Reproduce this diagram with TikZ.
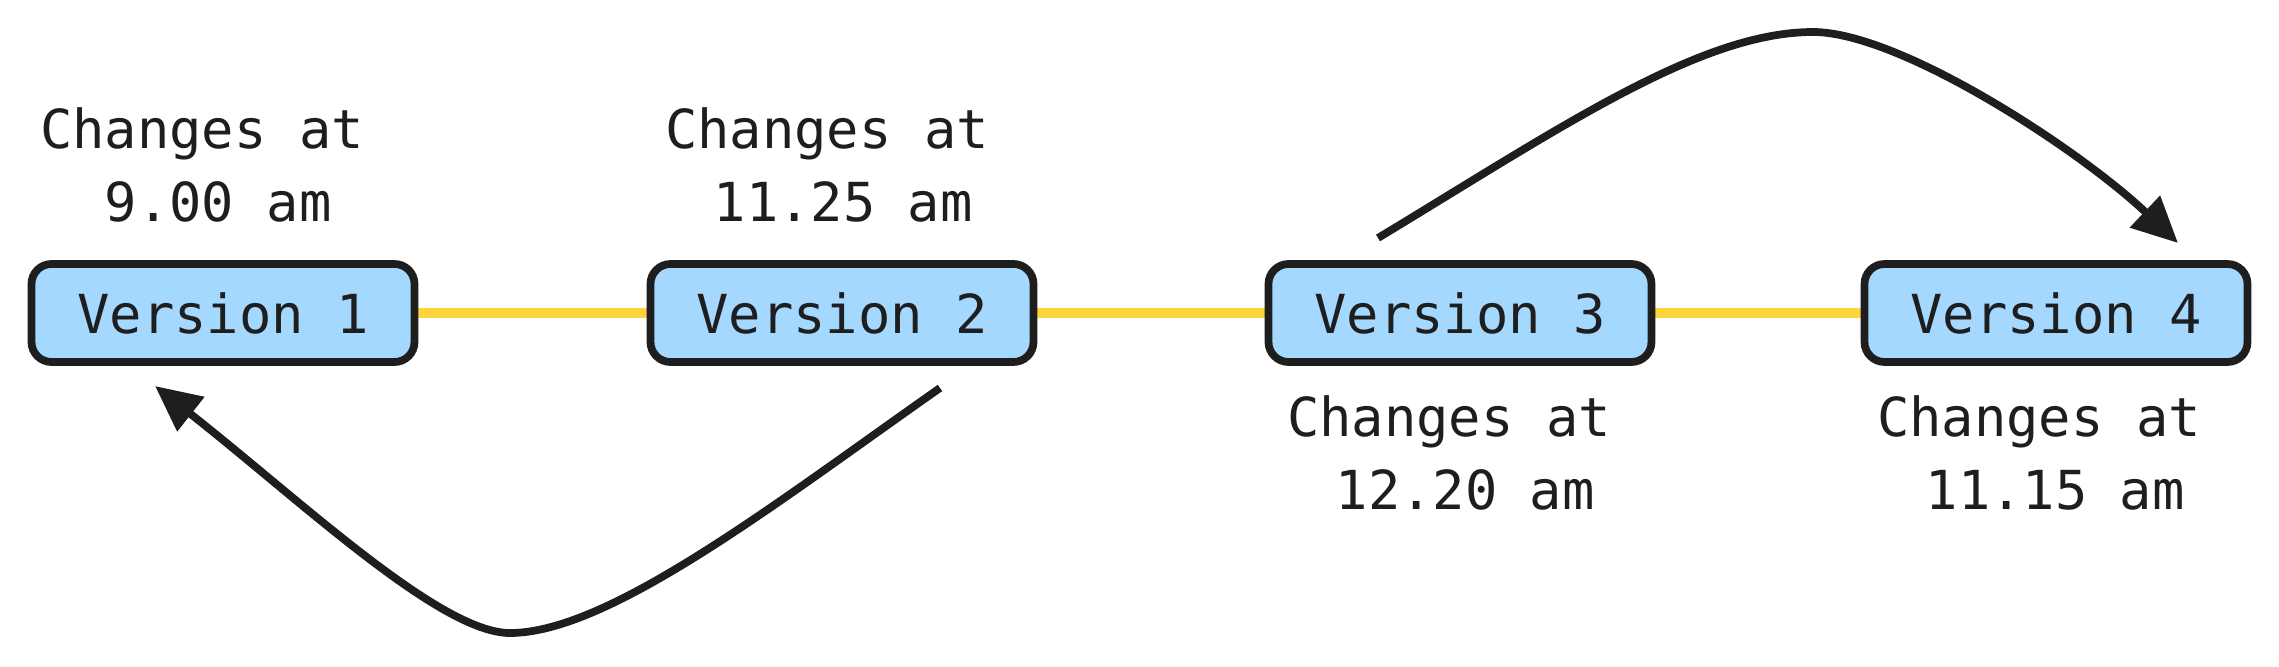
\documentclass[tikz,border=0pt]{standalone}
\usepackage{fontspec}
\setmonofont{DejaVu Sans Mono}
\usetikzlibrary{arrows.meta,backgrounds}
\definecolor{bleu}{HTML}{A5D8FF}
\definecolor{jaune}{HTML}{FFD43B}
\definecolor{encre}{HTML}{1E1E1E}

\begin{document}
\begin{tikzpicture}
 \tikzstyle{boite}=[rectangle, rounded corners=0.2cm, draw=encre, fill=bleu, line width=2.2pt, minimum width=3.83cm, minimum height=0.98cm, inner sep=0pt, text=encre, font=\ttfamily\fontsize{15.3}{20.8}\selectfont]
 \tikzstyle{legende}=[align=center, inner sep=0pt, text=encre, font=\ttfamily\fontsize{15.3}{20.8}\selectfont]
 \tikzstyle{fleche}=[-{Triangle[length=13pt, width=12pt]}, line width=2.2pt, draw=encre]
 \tikzstyle{trait}=[line width=2.8pt, draw=jaune]
 \useasboundingbox (0,0) rectangle (22.79,6.66);
 %
 \node[boite] (V1) at (2.23, 3.53) {Version 1};
 \node[boite] (V2) at (8.42, 3.53) {Version 2};
 \node[boite] (V3) at (14.60, 3.53) {Version 3};
 \node[boite] (V4) at (20.56, 3.53) {Version 4};
 %
 \node[legende] (L1) at (2.02, 5.01) {Changes at\\\hphantom{0}9.00 am};
 \node[legende] (L2) at (8.27, 5.01) {Changes at\\\hphantom{0}11.25 am};
 \node[legende] (L3) at (14.49, 2.13) {Changes at\\\hphantom{0}12.20 am};
 \node[legende] (L4) at (20.39, 2.13) {Changes at\\\hphantom{0}11.15 am};
 %
 \coordinate (D2) at (9.40, 2.78);
 \coordinate (A1) at (1.55, 2.80);
 \coordinate (D3) at (13.78, 4.28);
 \coordinate (A4) at (21.78, 4.23);
 %%
 \begin{scope}[on background layer]
  \draw[trait] (V1.east)--(V2.west);
  \draw[trait] (V2.east)--(V3.west);
  \draw[trait] (V3.east)--(V4.west);
 \end{scope}
 \draw[fleche] (D2) .. controls (7.80, 1.66) and (6.10, 0.33) .. (5.10, 0.33) .. controls (4.40, 0.33) and (3.00, 1.66) .. (A1);
 \draw[fleche] (D3) .. controls (15.60, 5.38) and (17.00, 6.34) .. (18.13, 6.34) .. controls (19.00, 6.34) and (20.80, 5.16) .. (A4);
\end{tikzpicture}
\end{document}
